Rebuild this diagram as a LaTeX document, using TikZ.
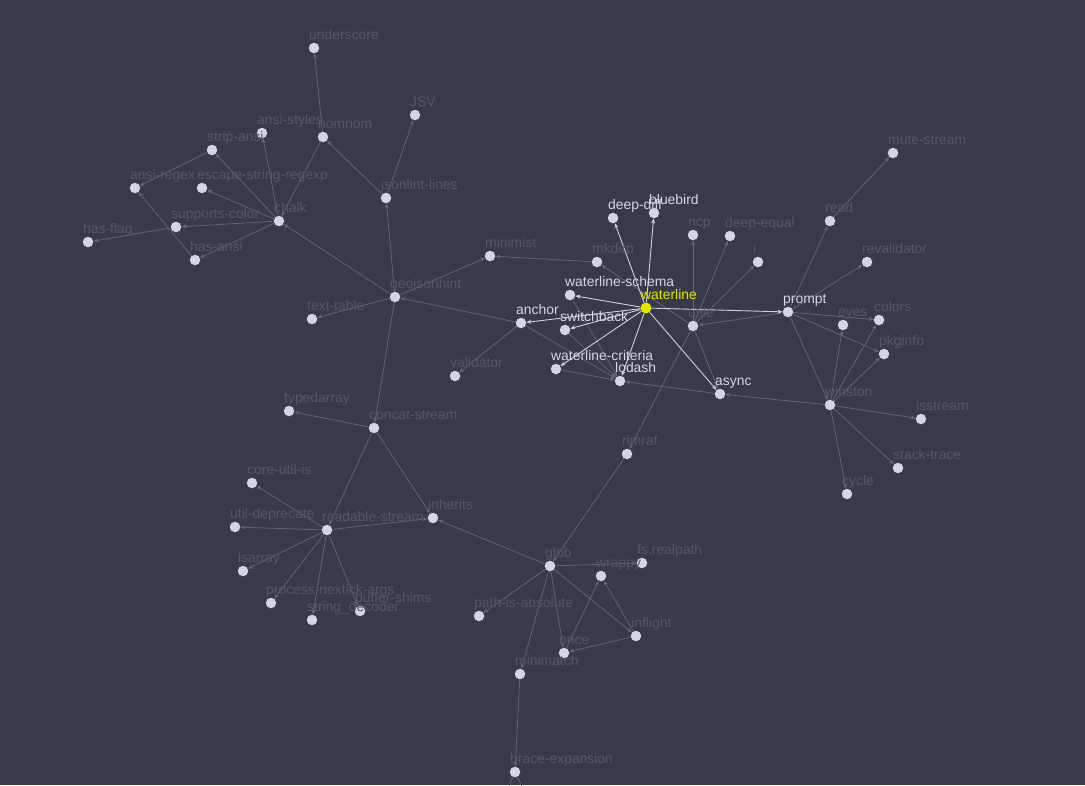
\documentclass[tikz,border=0pt]{standalone}
\usepackage{fontspec}
\setmainfont{Liberation Sans}
\usetikzlibrary{arrows.meta}
\definecolor{bgc}{RGB}{56,58,74}
\definecolor{nodec}{RGB}{212,212,230}
\definecolor{dimtext}{RGB}{84,87,106}
\definecolor{brighttext}{RGB}{208,214,238}
\definecolor{yel}{RGB}{228,228,0}
\definecolor{greyedge}{RGB}{98,101,122}
\definecolor{whiteedge}{RGB}{205,208,226}
\pgfdeclarelayer{bg}
\pgfdeclarelayer{edges}
\pgfsetlayers{bg,edges,main}
\tikzset{
  pt/.style={circle,fill=nodec,draw=none,minimum size=10.5pt,inner sep=0pt},
  hot/.style={circle,fill=yel,draw=none,minimum size=11pt,inner sep=0pt},
  lbl/.style={text=dimtext,font=\fontsize{13.9}{16}\selectfont,inner sep=0pt,anchor=base west},
  lblw/.style={lbl,text=brighttext},
  lbly/.style={lbl,text=yel},
  gedge/.style={draw=greyedge,line width=0.75pt,-{Stealth[length=5pt,width=4pt]}},
  wedge/.style={draw=whiteedge,line width=0.9pt,-{Stealth[length=5pt,width=4pt]}},
}
\newcommand\lb[5]{\node[#5] (#1-l) at (#2-5,#3-9) {#4};}
\begin{document}
\begin{tikzpicture}[x=1pt,y=-1pt]
\begin{pgfonlayer}{bg}
\fill[bgc] (0,0) rectangle (1085,785);
\end{pgfonlayer}
\useasboundingbox (0,0) rectangle (1085,785);
\clip (0,0) rectangle (1085,785);
% nodes
\node[pt] (underscore) at (314,48) {};
\node[pt] (JSV) at (415,115) {};
\node[pt] (ansistyles) at (262,133) {};
\node[pt] (nomnom) at (323,137) {};
\node[pt] (stripansi) at (212,150) {};
\node[pt] (ansiregex) at (135,188) {};
\node[pt] (escape) at (202,188) {};
\node[pt] (jsonlint) at (386,198) {};
\node[pt] (chalk) at (279,221) {};
\node[pt] (supportscolor) at (176,227) {};
\node[pt] (hasflag) at (88,242) {};
\node[pt] (hasansi) at (195,260) {};
\node[pt] (geojsonhint) at (395,297) {};
\node[pt] (minimist) at (490,256) {};
\node[pt] (texttable) at (312,319) {};
\node[pt] (validator) at (455,376) {};
\node[pt] (mkdirp) at (597,262) {};
\node[pt] (deepdiff) at (613,218) {};
\node[pt] (bluebird) at (654,213) {};
\node[pt] (ncp) at (693,235) {};
\node[pt] (deepequal) at (730,236) {};
\node[pt] (i) at (758,262) {};
\node[pt] (wschema) at (570,295) {};
\node[hot] (waterline) at (646,308) {};
\node[pt] (anchor) at (521,323) {};
\node[pt] (switchback) at (565,330) {};
\node[pt] (utile) at (693,326) {};
\node[pt] (prompt) at (788,312) {};
\node[pt] (wcriteria) at (556,369) {};
\node[pt] (lodash) at (620,381) {};
\node[pt] (async) at (720,394) {};
\node[pt] (eyes) at (843,325) {};
\node[pt] (colors) at (879,320) {};
\node[pt] (pkginfo) at (884,354) {};
\node[pt] (read) at (830,221) {};
\node[pt] (mutestream) at (893,153) {};
\node[pt] (revalidator) at (867,262) {};
\node[pt] (winston) at (830,405) {};
\node[pt] (isstream) at (921,419) {};
\node[pt] (stacktrace) at (898,468) {};
\node[pt] (cycle) at (847,494) {};
\node[pt] (typedarray) at (289,411) {};
\node[pt] (concatstream) at (374,428) {};
\node[pt] (rimraf) at (627,454) {};
\node[pt] (coreutilis) at (252,483) {};
\node[pt] (utildeprecate) at (235,527) {};
\node[pt] (readablestream) at (327,530) {};
\node[pt] (inherits) at (433,518) {};
\node[pt] (isarray) at (243,571) {};
\node[pt] (nextick) at (271,603) {};
\node[pt] (stringdecoder) at (312,620) {};
\node[pt] (buffershims) at (360,611) {};
\node[pt] (glob) at (550,566) {};
\node[pt] (wrappy) at (601,576) {};
\node[pt] (fsrealpath) at (642,563) {};
\node[pt] (pathabs) at (479,616) {};
\node[pt] (once) at (564,653) {};
\node[pt] (inflight) at (636,636) {};
\node[pt] (minimatch) at (520,674) {};
\node[pt] (braceexp) at (515,772) {};
\coordinate (offa) at (505,795);
\coordinate (offb) at (526,795);
% labels
\lb{underscore}{314}{48}{underscore}{lbl}
\lb{JSV}{415}{115}{JSV}{lbl}
\lb{ansistyles}{262}{133}{ansi-styles}{lbl}
\lb{nomnom}{323}{137}{nomnom}{lbl}
\lb{stripansi}{212}{150}{strip-ansi}{lbl}
\lb{ansiregex}{135}{188}{ansi-regex}{lbl}
\lb{escape}{202}{188}{escape-string-regexp}{lbl}
\lb{jsonlint}{386}{198}{jsonlint-lines}{lbl}
\lb{chalk}{279}{221}{chalk}{lbl}
\lb{supportscolor}{176}{227}{supports-color}{lbl}
\lb{hasflag}{88}{242}{has-flag}{lbl}
\lb{hasansi}{195}{260}{has-ansi}{lbl}
\lb{geojsonhint}{395}{297}{geojsonhint}{lbl}
\lb{minimist}{490}{256}{minimist}{lbl}
\lb{texttable}{312}{319}{text-table}{lbl}
\lb{validator}{455}{376}{validator}{lbl}
\lb{mkdirp}{597}{262}{mkdirp}{lbl}
\lb{deepdiff}{613}{218}{deep-diff}{lblw}
\lb{bluebird}{654}{213}{bluebird}{lblw}
\lb{ncp}{693}{235}{ncp}{lbl}
\lb{deepequal}{730}{236}{deep-equal}{lbl}
\lb{i}{758}{262}{i}{lbl}
\lb{wschema}{570}{295}{waterline-schema}{lblw}
\lb{waterline}{646}{308}{waterline}{lbly}
\lb{anchor}{521}{323}{anchor}{lblw}
\lb{switchback}{565}{330}{switchback}{lblw}
\lb{utile}{693}{326}{utile}{lbl}
\lb{prompt}{788}{312}{prompt}{lblw}
\lb{wcriteria}{556}{369}{waterline-criteria}{lblw}
\lb{lodash}{620}{381}{lodash}{lblw}
\lb{async}{720}{394}{async}{lblw}
\lb{eyes}{843}{325}{eyes}{lbl}
\lb{colors}{879}{320}{colors}{lbl}
\lb{pkginfo}{884}{354}{pkginfo}{lbl}
\lb{read}{830}{221}{read}{lbl}
\lb{mutestream}{893}{153}{mute-stream}{lbl}
\lb{revalidator}{867}{262}{revalidator}{lbl}
\lb{winston}{830}{405}{winston}{lbl}
\lb{isstream}{921}{419}{isstream}{lbl}
\lb{stacktrace}{898}{468}{stack-trace}{lbl}
\lb{cycle}{847}{494}{cycle}{lbl}
\lb{typedarray}{289}{411}{typedarray}{lbl}
\lb{concatstream}{374}{428}{concat-stream}{lbl}
\lb{rimraf}{627}{454}{rimraf}{lbl}
\lb{coreutilis}{252}{483}{core-util-is}{lbl}
\lb{utildeprecate}{235}{527}{util-deprecate}{lbl}
\lb{readablestream}{327}{530}{readable-stream}{lbl}
\lb{inherits}{433}{518}{inherits}{lbl}
\lb{isarray}{243}{571}{isarray}{lbl}
\lb{nextick}{271}{603}{process-nextick-args}{lbl}
\lb{stringdecoder}{312}{620}{string\_decoder}{lbl}
\lb{buffershims}{360}{611}{buffer-shims}{lbl}
\lb{glob}{550}{566}{glob}{lbl}
\lb{wrappy}{601}{576}{wrappy}{lbl}
\lb{fsrealpath}{642}{563}{fs.realpath}{lbl}
\lb{pathabs}{479}{616}{path-is-absolute}{lbl}
\lb{once}{564}{653}{once}{lbl}
\lb{inflight}{636}{636}{inflight}{lbl}
\lb{minimatch}{520}{674}{minimatch}{lbl}
\lb{braceexp}{515}{772}{brace-expansion}{lbl}
% edges
\begin{pgfonlayer}{edges}
\foreach \a/\b in {nomnom/underscore,jsonlint/JSV,jsonlint/nomnom,nomnom/chalk,
  chalk/ansistyles,chalk/stripansi,chalk/escape,chalk/supportscolor,chalk/hasansi,
  stripansi/ansiregex,hasansi/ansiregex,supportscolor/hasflag,
  geojsonhint/jsonlint,geojsonhint/chalk,geojsonhint/minimist,geojsonhint/texttable,
  geojsonhint/concatstream,mkdirp/minimist,anchor/geojsonhint,anchor/validator,
  anchor/lodash,wschema/lodash,switchback/lodash,wcriteria/lodash,async/lodash,
  utile/mkdirp,utile/ncp,utile/deepequal,utile/i,utile/async,utile/rimraf,
  prompt/utile,prompt/read,prompt/revalidator,prompt/colors,prompt/pkginfo,prompt/winston,
  read/mutestream,winston/eyes,winston/colors,winston/pkginfo,winston/isstream,
  winston/stacktrace,winston/cycle,winston/async,
  concatstream/typedarray,concatstream/readablestream,concatstream/inherits,
  readablestream/coreutilis,readablestream/utildeprecate,readablestream/isarray,
  readablestream/nextick,readablestream/stringdecoder,readablestream/buffershims,
  readablestream/inherits,glob/inherits,rimraf/glob,glob/fsrealpath,glob/pathabs,
  glob/once,glob/inflight,glob/minimatch,once/wrappy,inflight/wrappy,inflight/once,
  minimatch/braceexp}
  {\draw[gedge] (\a) -- (\b);}
\draw[draw=greyedge,line width=0.75pt] (braceexp) -- (offa);
\draw[draw=greyedge,line width=0.75pt] (braceexp) -- (offb);
\foreach \b in {deepdiff,bluebird,wschema,anchor,switchback,wcriteria,lodash,async,prompt}
  {\draw[wedge] (waterline) -- (\b);}
\end{pgfonlayer}
\end{tikzpicture}
\end{document}
